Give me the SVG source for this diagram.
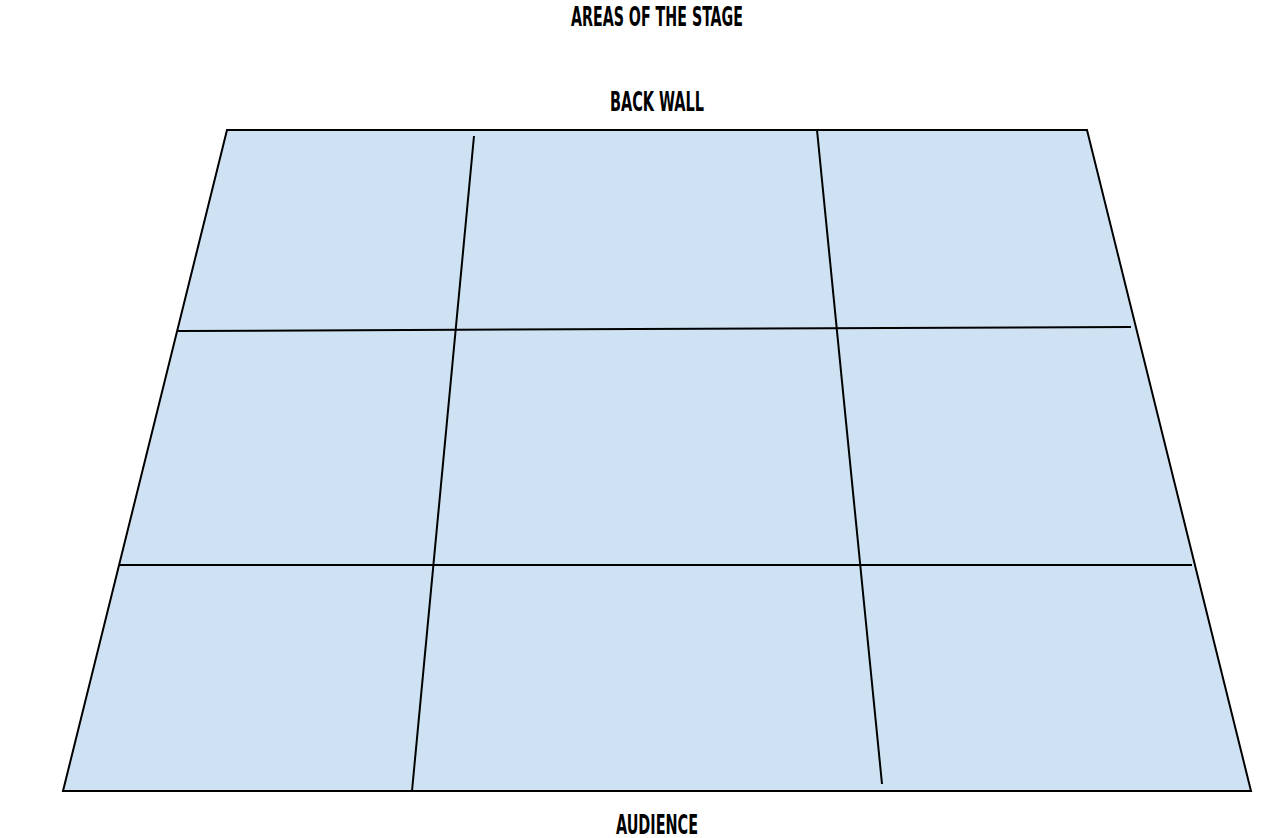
<svg xmlns="http://www.w3.org/2000/svg" width="1285" height="838" viewBox="0 0 1285 838">
<style>
.t{font-family:"Liberation Sans Narrow","DejaVu Sans Condensed","Liberation Sans",sans-serif;font-weight:bold;font-size:26px;fill:#000;text-anchor:middle}
.ln{stroke:#000;stroke-width:2;fill:none;stroke-linecap:butt}
</style>
<rect width="1285" height="838" fill="#fff"/>
<g id="stage">
<polygon points="227,130 1087,130 1251,791 63,791" fill="#cfe2f3" stroke="#000" stroke-width="2" stroke-linejoin="miter"/>
</g>
<g id="grid-lines">
<line class="ln" x1="474" y1="136" x2="412" y2="791"/>
<line class="ln" x1="817" y1="130" x2="882" y2="784"/>
<line class="ln" x1="178" y1="331" x2="1131" y2="327"/>
<line class="ln" x1="119" y1="565" x2="1192" y2="565"/>
</g>
<g id="labels">
<text class="t" x="657" y="26" textLength="172" lengthAdjust="spacingAndGlyphs">AREAS OF THE STAGE</text>
<text class="t" x="657" y="111" textLength="94" lengthAdjust="spacingAndGlyphs">BACK WALL</text>
<text class="t" x="657" y="834" textLength="82" lengthAdjust="spacingAndGlyphs">AUDIENCE</text>
</g>
</svg>
